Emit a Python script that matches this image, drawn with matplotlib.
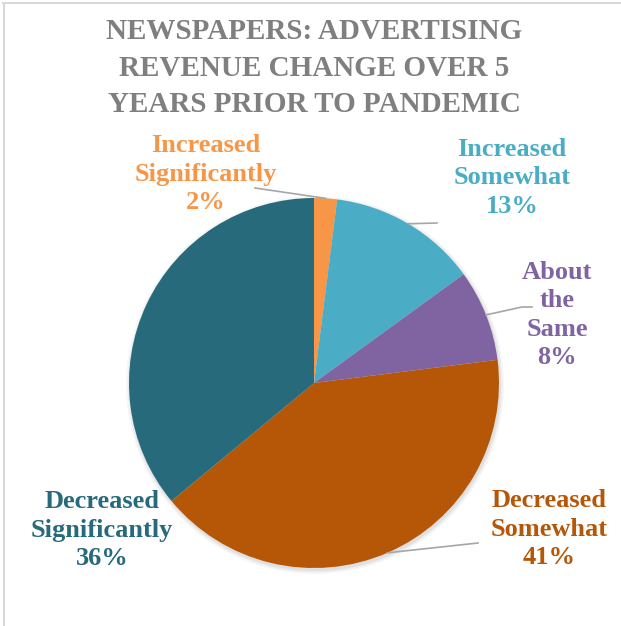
import math
import matplotlib
matplotlib.use("Agg")
import matplotlib.pyplot as plt

# data
categories = ["Increased\nSignificantly", "Increased\nSomewhat", "About\nthe\nSame",
              "Decreased\nSomewhat", "Decreased\nSignificantly"]
shares = [2, 13, 8, 41, 36]
colors = ["#F79646", "#4BACC6", "#8064A2", "#B65708", "#276A7C"]
title = "NEWSPAPERS: ADVERTISING\nREVENUE CHANGE OVER 5\nYEARS PRIOR TO PANDEMIC"

W, H = 621, 626
fig = plt.figure(figsize=(W / 100, H / 100), dpi=100)
ax = fig.add_axes([0, 0, 1, 1])
ax.set_xlim(0, W)
ax.set_ylim(0, H)
ax.axis("off")

font = "Liberation Serif"

# frame lines (top / left) like the exported chart area
ax.plot([3, W], [H - 3, H - 3], color="#D9D9D9", lw=1.5)
ax.plot([4, 4], [0, H - 3], color="#D9D9D9", lw=1.5)

cx, cy, r = 314, H - 383, 185

# soft shadow
for i, a in enumerate([0.05, 0.04, 0.03]):
    sh = plt.Circle((cx + 1, cy - 2), r + 1 + i * 1.5, color="black", alpha=a, lw=0, zorder=1)
    ax.add_patch(sh)

wedges, _ = ax.pie(shares, colors=colors, startangle=90, counterclock=False,
                   center=(cx, cy), radius=r, frame=False,
                   wedgeprops=dict(linewidth=0, zorder=2))
ax.set_xlim(0, W)
ax.set_ylim(0, H)
ax.set_aspect("equal")

# label layout: (text center x, text center y in image px, leader end points)
label_pos = [(206, 174), (512, 178), (557, 315), (549, 529), (102, 530)]
leader_ends = [[(255, 188)], [(437, 223)], [(522, 307), (532, 307)], [(478, 543)], None]

for w, cat, val, col, (tx, ty), ends in zip(wedges, categories, shares, colors,
                                            label_pos, leader_ends):
    ax.text(tx, H - ty, f"{cat}\n{val}%", ha="center", va="center", color=col,
            fontsize=19, fontweight="bold", family=font, linespacing=1.3, zorder=5)
    if ends:
        mid = math.radians((w.theta1 + w.theta2) / 2)
        xs = [cx + r * math.cos(mid)] + [e[0] for e in ends]
        ys = [cy + r * math.sin(mid)] + [H - e[1] for e in ends]
        ax.plot(xs, ys, color="#A6A6A6", lw=1.2, zorder=4)

ax.text(314, H - 68, title, ha="center", va="center", color="#7F7F7F",
        fontsize=21, fontweight="bold", family=font, linespacing=1.45)

fig.savefig("out.png", dpi=100, facecolor="white")
